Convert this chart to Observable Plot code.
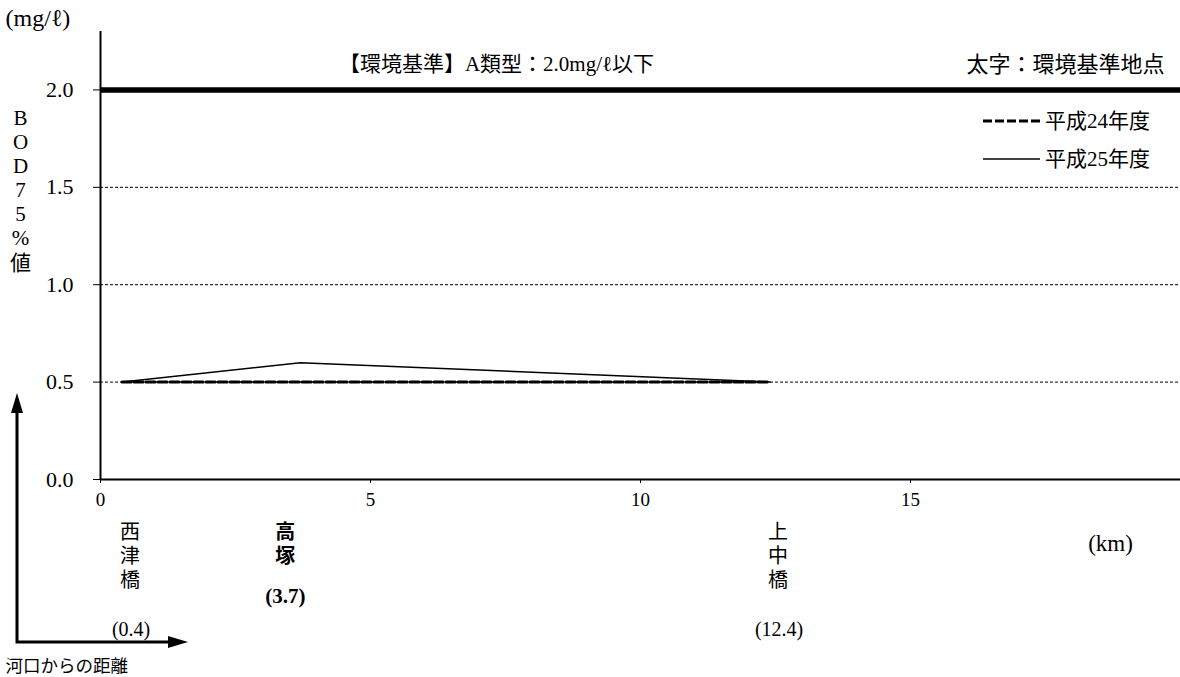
<!DOCTYPE html>
<html><head><meta charset="utf-8">
<script src="https://cdn.jsdelivr.net/npm/d3@7"></script>
<script src="https://cdn.jsdelivr.net/npm/@observablehq/plot@0.6"></script>
<style>body{margin:0;background:#fff;} svg{display:block}</style>
</head><body><div id="chart"></div>
<script>
// ---- data ----
const stations = ["西津橋", "高塚", "上中橋"];
const distancesKm = [0.4, 3.7, 12.4];
const bodH24 = [0.5, 0.5, 0.5];
const bodH25 = [0.5, 0.6, 0.5];
const standardPoint = [false, true, false];
const seriesNames = ["平成24年度", "平成25年度"];
const yTicks = [0, 0.5, 1.0, 1.5, 2.0];
const xTicks = [0, 5, 10, 15, 20];
const xTickLabels = ["0", "5", "10", "15", ""];
const gridLevels = [0.5, 1.0, 1.5];
const standardLevel = [2.0];
const standardText = "【環境基準】A類型：2.0mg/ℓ以下";
const boldNote = "太字：環境基準地点";
const yLabel = "BOD75%値";
const yUnit = "(mg/ℓ)";
const xUnit = "(km)";
const distanceNote = "河口からの距離";

const rows = stations.map((s, i) => ({station: s, km: distancesKm[i], h24: bodH24[i], h25: bodH25[i], bold: standardPoint[i]}));
const normalRows = rows.filter(d => !d.bold);
const boldRows = rows.filter(d => d.bold);
const vertical = s => [...s].join("\n");

const FONT = "'Liberation Serif','Noto Sans CJK JP',serif";

const chart = Plot.plot({
  width: 1180,
  height: 677,
  marginTop: 31,
  marginBottom: 198,
  marginLeft: 100,
  marginRight: 0,
  style: {fontFamily: FONT, color: "#000", background: "#fff"},
  x: {domain: [0, 20]},
  y: {domain: [0, 2.3]},
  marks: [
    Plot.ruleY(gridLevels, {stroke: "#000", strokeWidth: 1, strokeDasharray: "3,2"}),
    Plot.ruleY(standardLevel, {stroke: "#000", strokeWidth: 5.5}),
    Plot.line(rows, {x: "km", y: "h24", stroke: "#000", strokeWidth: 3, strokeDasharray: "9,3"}),
    Plot.line(rows, {x: "km", y: "h25", stroke: "#000", strokeWidth: 1.5}),
    Plot.ruleX([0], {stroke: "#000", strokeWidth: 2}),
    Plot.ruleY([0], {stroke: "#000", strokeWidth: 2}),
    Plot.axisY(yTicks, {tickSize: 7, tickPadding: 20, tickFormat: d3.format(".1f"), fontSize: 22, label: null, stroke: "#000"}),
    Plot.axisX(xTicks, {tickSize: 4, tickPadding: 9, fontSize: 19, label: null, tickFormat: (d) => xTickLabels[xTicks.indexOf(d)]}),
    // station names
    Plot.text(normalRows, {x: "km", text: d => vertical(d.station), frameAnchor: "bottom", lineAnchor: "top", dy: 42, dx: 8, fontSize: 20, lineHeight: 1.2}),
    Plot.text(boldRows, {x: "km", text: d => vertical(d.station), frameAnchor: "bottom", lineAnchor: "top", dy: 42, dx: -15, fontSize: 20, lineHeight: 1.2, fontWeight: "bold"}),
    Plot.text(normalRows, {x: "km", text: d => `(${d.km})`, frameAnchor: "bottom", lineAnchor: "middle", dy: 150, dx: 9, fontSize: 20}),
    Plot.text(boldRows, {x: "km", text: d => `(${d.km})`, frameAnchor: "bottom", lineAnchor: "middle", dy: 117, dx: -15, fontSize: 21, fontWeight: "bold"}),
    // annotations
    Plot.text([standardText], {frameAnchor: "top", dx: -144, dy: 33, textAnchor: "middle", lineAnchor: "middle", fontSize: 21}),
    Plot.text([boldNote], {frameAnchor: "top-right", dx: -16, dy: 33, textAnchor: "end", lineAnchor: "middle", fontSize: 22}),
    Plot.text([vertical(yLabel)], {frameAnchor: "top-left", dx: -80, dy: 76, textAnchor: "middle", lineAnchor: "top", fontSize: 21, lineHeight: 1.15}),
    Plot.text([yUnit], {frameAnchor: "top-left", dx: -95, dy: -13, textAnchor: "start", lineAnchor: "middle", fontSize: 24}),
    Plot.text([xUnit], {frameAnchor: "bottom-right", dx: -70, dy: 64, textAnchor: "middle", lineAnchor: "middle", fontSize: 23}),
    Plot.text([distanceNote], {frameAnchor: "bottom-left", dx: -95, dy: 187, textAnchor: "start", lineAnchor: "middle", fontSize: 17.5})
  ]
});

const svg = d3.select(chart);
// legend
const legend = svg.append("g").attr("font-family", FONT).attr("font-size", 21).attr("text-anchor", "start");
const dashes = ["9,3", null];
const widths = [3, 1.5];
seriesNames.forEach((name, i) => {
  const y = 121 + i * 38;
  legend.append("line").attr("x1", 983).attr("x2", 1040).attr("y1", y).attr("y2", y)
    .attr("stroke", "#000").attr("stroke-width", widths[i]).attr("stroke-dasharray", dashes[i]);
  legend.append("text").attr("x", 1045).attr("y", y).attr("dy", "0.35em").text(name);
});
// distance arrows
const arr = svg.append("g").attr("fill", "#000").attr("stroke", "#000");
arr.append("path").attr("d", "M17,410 L17,642 L170,642").attr("fill", "none").attr("stroke-width", 3);
arr.append("path").attr("d", "M17,393 L11,413 L23,413 Z").attr("stroke", "none");
arr.append("path").attr("d", "M188,642 L168,636 L168,648 Z").attr("stroke", "none");

document.getElementById("chart").appendChild(chart);
</script>
</body></html>
